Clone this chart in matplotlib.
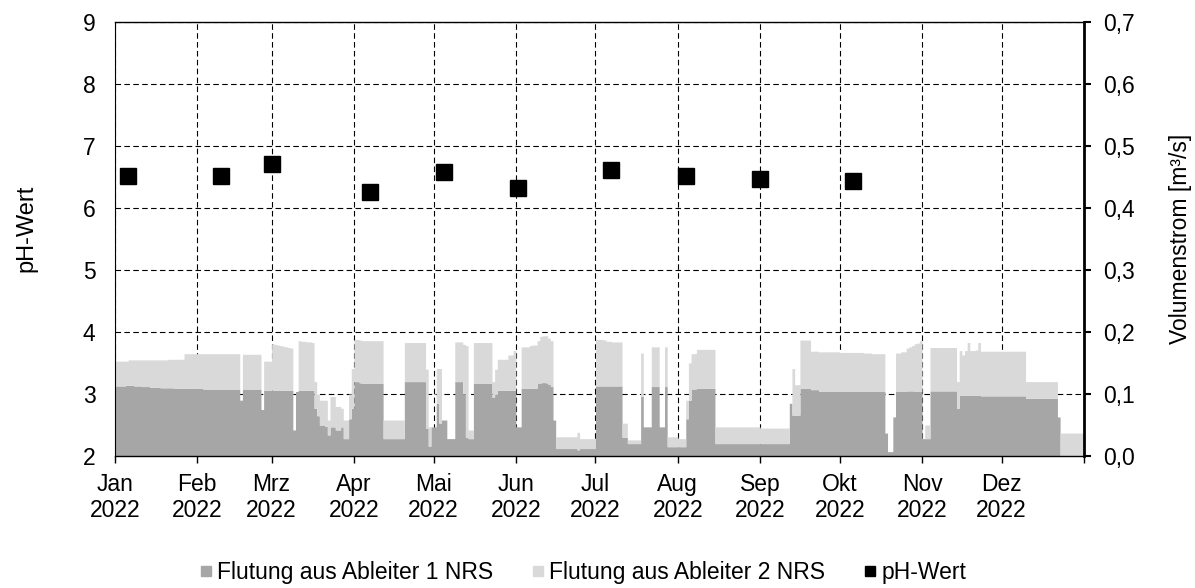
import numpy as np
import pandas as pd
import matplotlib
matplotlib.use("Agg")
import matplotlib.pyplot as plt
from matplotlib.lines import Line2D

plt.rcParams['font.family'] = ['Liberation Sans', 'DejaVu Sans']

# Daily flow rates [m³/s], 2022, listed month by month
ableiter1_jan = [0.113, 0.113, 0.113, 0.113, 0.114, 0.114, 0.114, 0.113, 0.113, 0.113, 0.112,
                 0.112, 0.112, 0.111, 0.111, 0.111, 0.111, 0.110, 0.110, 0.110, 0.110,
                 0.110, 0.109, 0.109, 0.109, 0.109, 0.109, 0.109, 0.109, 0.109, 0.109]
ableiter2_jan = [0.040, 0.040, 0.040, 0.040, 0.039, 0.041, 0.041, 0.042, 0.042, 0.042, 0.043,
                 0.043, 0.043, 0.044, 0.044, 0.044, 0.044, 0.045, 0.045, 0.045, 0.046,
                 0.046, 0.047, 0.047, 0.047, 0.047, 0.056, 0.056, 0.056, 0.056, 0.056]

ableiter1_feb = [0.109, 0.109, 0.108, 0.108, 0.108, 0.108, 0.108, 0.108, 0.108, 0.108,
                 0.108, 0.108, 0.108, 0.108, 0.108, 0.108, 0.090, 0.108, 0.108, 0.108,
                 0.108, 0.108, 0.108, 0.108, 0.075, 0.106, 0.106, 0.106]
ableiter2_feb = [0.056, 0.056, 0.057, 0.057, 0.057, 0.057, 0.057, 0.057, 0.057, 0.057,
                 0.057, 0.057, 0.057, 0.057, 0.057, 0.057, 0.000, 0.056, 0.056, 0.056,
                 0.056, 0.056, 0.056, 0.056, 0.000, 0.047, 0.047, 0.047]

ableiter1_mar = [0.106, 0.106, 0.106, 0.106, 0.106, 0.106, 0.106, 0.106, 0.042, 0.104,
                 0.106, 0.106, 0.106, 0.106, 0.106, 0.106, 0.077, 0.065, 0.050, 0.050,
                 0.048, 0.034, 0.047, 0.047, 0.042, 0.042, 0.047, 0.028, 0.028, 0.060, 0.077]
ableiter2_mar = [0.075, 0.074, 0.073, 0.072, 0.071, 0.070, 0.069, 0.068, 0.000, 0.000,
                 0.080, 0.079, 0.079, 0.078, 0.078, 0.077, 0.043, 0.035, 0.040, 0.040,
                 0.042, 0.024, 0.049, 0.049, 0.038, 0.038, 0.030, 0.030, 0.030, 0.040, 0.064]

ableiter1_apr = [0.120, 0.120, 0.118, 0.117, 0.117, 0.117, 0.117, 0.117, 0.117, 0.117,
                 0.117, 0.028, 0.028, 0.028, 0.028, 0.028, 0.028, 0.028, 0.028, 0.120,
                 0.120, 0.120, 0.120, 0.120, 0.120, 0.120, 0.120, 0.045, 0.016, 0.047]
ableiter2_apr = [0.068, 0.068, 0.069, 0.069, 0.069, 0.069, 0.069, 0.069, 0.069, 0.069,
                 0.069, 0.030, 0.030, 0.030, 0.030, 0.030, 0.030, 0.030, 0.030, 0.063,
                 0.063, 0.063, 0.063, 0.063, 0.063, 0.063, 0.063, 0.095, 0.031, 0.000]

ableiter1_mai = [0.047, 0.085, 0.053, 0.058, 0.058, 0.028, 0.028, 0.028, 0.120, 0.120,
                 0.120, 0.100, 0.030, 0.028, 0.028, 0.117, 0.117, 0.117, 0.117, 0.117,
                 0.117, 0.117, 0.095, 0.100, 0.106, 0.106, 0.106, 0.106, 0.106, 0.106, 0.106]
ableiter2_mai = [0.000, 0.056, 0.088, 0.000, 0.000, 0.000, 0.000, 0.000, 0.064, 0.064,
                 0.064, 0.080, 0.148, 0.014, 0.014, 0.066, 0.066, 0.066, 0.066, 0.066,
                 0.066, 0.066, 0.025, 0.040, 0.050, 0.050, 0.050, 0.050, 0.057, 0.057, 0.064]

ableiter1_jun = [0.047, 0.047, 0.109, 0.109, 0.109, 0.109, 0.109, 0.109, 0.117, 0.118,
                 0.119, 0.118, 0.116, 0.112, 0.058, 0.012, 0.012, 0.012, 0.012, 0.012,
                 0.012, 0.012, 0.012, 0.010, 0.012, 0.012, 0.012, 0.012, 0.012, 0.012]
ableiter2_jun = [0.000, 0.000, 0.067, 0.067, 0.067, 0.069, 0.070, 0.070, 0.069, 0.075,
                 0.075, 0.076, 0.074, 0.074, 0.000, 0.019, 0.019, 0.019, 0.019, 0.019,
                 0.019, 0.019, 0.019, 0.028, 0.016, 0.016, 0.016, 0.016, 0.016, 0.016]

ableiter1_jul = [0.113, 0.113, 0.113, 0.113, 0.113, 0.113, 0.113, 0.113, 0.113, 0.113,
                 0.030, 0.030, 0.020, 0.020, 0.020, 0.020, 0.020, 0.096, 0.047, 0.047,
                 0.047, 0.112, 0.112, 0.112, 0.047, 0.047, 0.112, 0.015, 0.015, 0.015, 0.015]
ableiter2_jul = [0.075, 0.075, 0.075, 0.074, 0.072, 0.072, 0.071, 0.071, 0.071, 0.071,
                 0.023, 0.023, 0.006, 0.006, 0.006, 0.006, 0.006, 0.070, 0.000, 0.000,
                 0.000, 0.064, 0.064, 0.064, 0.000, 0.000, 0.064, 0.016, 0.016, 0.016, 0.016]

ableiter1_aug = [0.015, 0.015, 0.015, 0.060, 0.090, 0.108, 0.108, 0.109, 0.109, 0.109,
                 0.109, 0.109, 0.109, 0.109, 0.020, 0.020, 0.020, 0.020, 0.020, 0.020,
                 0.020, 0.020, 0.020, 0.020, 0.020, 0.020, 0.020, 0.020, 0.020, 0.020, 0.020]
ableiter2_aug = [0.013, 0.013, 0.013, 0.030, 0.060, 0.057, 0.057, 0.063, 0.063, 0.063,
                 0.063, 0.063, 0.063, 0.063, 0.027, 0.027, 0.027, 0.027, 0.027, 0.027,
                 0.027, 0.027, 0.027, 0.027, 0.027, 0.027, 0.027, 0.027, 0.027, 0.027, 0.027]

ableiter1_sep = [0.020, 0.020, 0.020, 0.020, 0.020, 0.020, 0.020, 0.020, 0.020, 0.020,
                 0.020, 0.085, 0.066, 0.066, 0.066, 0.109, 0.109, 0.109, 0.109, 0.107,
                 0.107, 0.107, 0.104, 0.104, 0.104, 0.104, 0.104, 0.104, 0.104, 0.104]
ableiter2_sep = [0.025, 0.025, 0.025, 0.025, 0.025, 0.025, 0.025, 0.025, 0.025, 0.025,
                 0.025, 0.000, 0.075, 0.049, 0.049, 0.078, 0.078, 0.078, 0.078, 0.062,
                 0.062, 0.062, 0.064, 0.064, 0.064, 0.064, 0.064, 0.064, 0.064, 0.064]

ableiter1_okt = [0.104, 0.104, 0.104, 0.104, 0.104, 0.104, 0.104, 0.104, 0.104, 0.104,
                 0.104, 0.104, 0.104, 0.104, 0.104, 0.104, 0.104, 0.037, 0.007, 0.007,
                 0.063, 0.104, 0.104, 0.104, 0.104, 0.105, 0.105, 0.105, 0.104, 0.104, 0.104]
ableiter2_okt = [0.063, 0.063, 0.063, 0.063, 0.063, 0.063, 0.063, 0.063, 0.063, 0.062,
                 0.062, 0.062, 0.061, 0.061, 0.061, 0.061, 0.061, 0.000, 0.000, 0.000,
                 0.000, 0.062, 0.062, 0.064, 0.064, 0.069, 0.071, 0.073, 0.077, 0.078, 0.082]

ableiter1_nov = [0.028, 0.028, 0.028, 0.105, 0.105, 0.105, 0.105, 0.105, 0.105, 0.105,
                 0.105, 0.105, 0.105, 0.077, 0.098, 0.098, 0.098, 0.098, 0.098, 0.098,
                 0.098, 0.098, 0.097, 0.097, 0.097, 0.097, 0.097, 0.097, 0.097, 0.097]
ableiter2_nov = [0.000, 0.022, 0.022, 0.070, 0.070, 0.070, 0.070, 0.070, 0.070, 0.070,
                 0.070, 0.070, 0.070, 0.043, 0.072, 0.065, 0.072, 0.085, 0.072, 0.072,
                 0.073, 0.085, 0.072, 0.072, 0.072, 0.072, 0.072, 0.072, 0.072, 0.072]

ableiter1_dez = [0.097, 0.097, 0.097, 0.097, 0.097, 0.097, 0.097, 0.097, 0.097, 0.093,
                 0.093, 0.093, 0.093, 0.093, 0.093, 0.093, 0.093, 0.093, 0.093, 0.093,
                 0.093, 0.063, 0.000, 0.000, 0.000, 0.000, 0.000, 0.000, 0.000, 0.000, 0.000]
ableiter2_dez = [0.072, 0.072, 0.072, 0.072, 0.072, 0.072, 0.072, 0.072, 0.072, 0.027,
                 0.027, 0.027, 0.027, 0.027, 0.027, 0.027, 0.027, 0.027, 0.027, 0.027,
                 0.027, 0.000, 0.037, 0.037, 0.037, 0.037, 0.037, 0.037, 0.037, 0.037, 0.037]

# pH measurements
ph_dates = ['2022-01-06', '2022-02-10', '2022-03-01', '2022-04-07', '2022-05-05',
            '2022-06-02', '2022-07-07', '2022-08-04', '2022-09-01', '2022-10-06']
ph_values = [6.52, 6.52, 6.71, 6.26, 6.58, 6.32, 6.62, 6.52, 6.46, 6.43]

month_labels = ['Jan\n2022', 'Feb\n2022', 'Mrz\n2022', 'Apr\n2022', 'Mai\n2022', 'Jun\n2022',
                'Jul\n2022', 'Aug\n2022', 'Sep\n2022', 'Okt\n2022', 'Nov\n2022', 'Dez\n2022', '']
ph_ticks = [2, 3, 4, 5, 6, 7, 8, 9]
flow_ticks = [0.0, 0.1, 0.2, 0.3, 0.4, 0.5, 0.6, 0.7]

series_labels = ['Flutung aus Ableiter 1 NRS', 'Flutung aus Ableiter 2 NRS', 'pH-Wert']
color_1 = '#a6a6a6'
color_2 = '#d9d9d9'

ableiter1 = np.array(ableiter1_jan + ableiter1_feb + ableiter1_mar + ableiter1_apr +
                     ableiter1_mai + ableiter1_jun + ableiter1_jul + ableiter1_aug +
                     ableiter1_sep + ableiter1_okt + ableiter1_nov + ableiter1_dez)
ableiter2 = np.array(ableiter2_jan + ableiter2_feb + ableiter2_mar + ableiter2_apr +
                     ableiter2_mai + ableiter2_jun + ableiter2_jul + ableiter2_aug +
                     ableiter2_sep + ableiter2_okt + ableiter2_nov + ableiter2_dez)

days = pd.date_range('2022-01-01', periods=len(ableiter1), freq='D')
edges = days.append(pd.DatetimeIndex([days[-1] + pd.Timedelta(days=1)]))
lower = np.append(ableiter1, ableiter1[-1])
upper = np.append(ableiter1 + ableiter2, (ableiter1 + ableiter2)[-1])

fs = 16.5

fig = plt.figure(figsize=(11.95, 5.88), dpi=100)
ax = fig.add_axes([0.0962, 0.2245, 0.8109, 0.7381])
ax2 = ax.twinx()

# pH axis on top (markers), flow axis below it (areas + grid)
ax.set_zorder(3)
ax2.set_zorder(2)
ax.patch.set_visible(False)
ax2.patch.set_visible(True)
ax2.patch.set_facecolor('white')

ax2.fill_between(edges, 0, lower, step='post', color=color_1, lw=0, zorder=2)
ax2.fill_between(edges, lower, upper, step='post', color=color_2, lw=0, zorder=2)
ax2.set_ylim(0, 0.7)
ax2.set_yticks(flow_ticks)
ax2.set_yticklabels([f'{v:.1f}'.replace('.', ',') for v in flow_ticks])
ax2.xaxis.set_visible(True)
ax2.set_axisbelow(True)
ax2.grid(True, color='black', linestyle=(0, (5, 3)), linewidth=0.8)
ax2.tick_params(axis='x', bottom=False, top=False, labelbottom=False)
ax2.tick_params(axis='y', direction='out', length=5, width=1.5, pad=9, labelsize=fs)
for s in ax2.spines.values():
    s.set_visible(False)

ax.plot(pd.to_datetime(ph_dates), ph_values, 's', color='black', ms=11.5, zorder=5)
ax.set_ylim(2, 9)
ax.set_yticks(ph_ticks)
month_starts = pd.date_range('2022-01-01', '2023-01-01', freq='MS')
ax.set_xlim(month_starts[0], month_starts[-1])
ax.set_xticks(month_starts)
ax.set_xticklabels(month_labels)
ax.tick_params(axis='y', length=0, pad=14, labelsize=fs)
ax.tick_params(axis='x', direction='out', length=5, width=1, pad=7, labelsize=fs)

ax.spines['left'].set_linewidth(0.8)
ax.spines['top'].set_linewidth(1.0)
ax.spines['bottom'].set_linewidth(1.0)
ax.spines['right'].set_linewidth(2.0)

ax.set_ylabel('pH-Wert', fontsize=17)
ax.yaxis.set_label_coords(-0.08, 0.525)
ax2.set_ylabel('Volumenstrom [m³/s]', fontsize=16.5, rotation=90)
ax2.yaxis.set_label_coords(1.088, 0.5)

handles = [Line2D([], [], marker='s', ls='none', color=color_1, ms=7.5),
           Line2D([], [], marker='s', ls='none', color=color_2, ms=7.5),
           Line2D([], [], marker='s', ls='none', color='black', ms=7.5)]
fig.legend(handles, series_labels, loc='center', bbox_to_anchor=(0.488, 0.027), ncol=3,
           frameon=False, fontsize=fs, handlelength=0.5, handletextpad=0.25,
           columnspacing=1.7)

fig.savefig('out.png', dpi=100)
